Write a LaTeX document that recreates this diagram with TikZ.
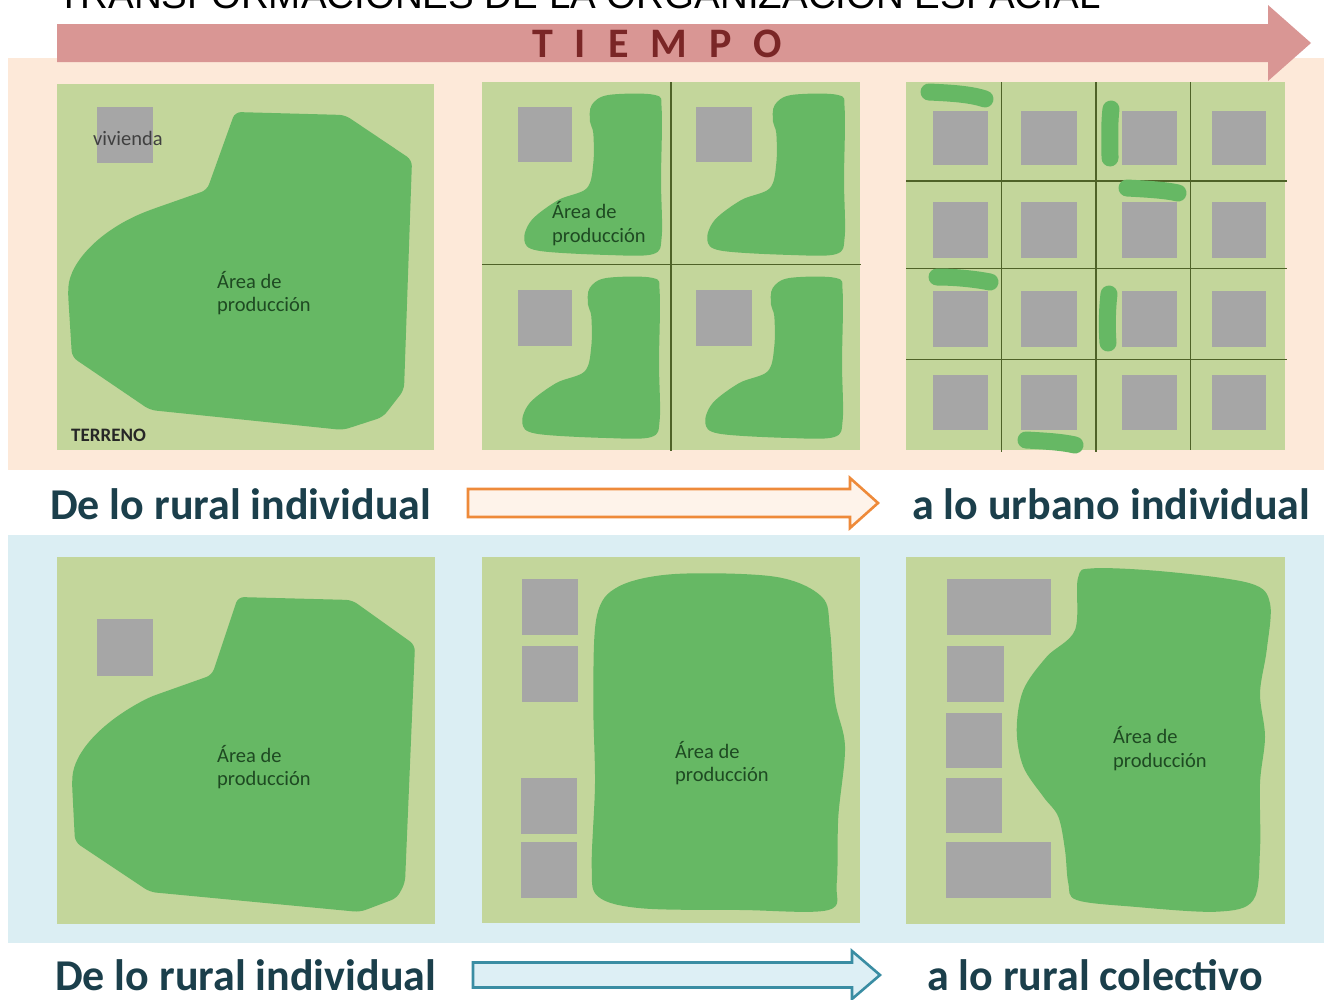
\documentclass[tikz,border=0pt]{standalone}
\usepackage{fontspec}
\setmainfont{Carlito}
\newfontfamily\titlefont{Liberation Sans}
\usetikzlibrary{calc}
\definecolor{peach}{HTML}{FDE9D9}
\definecolor{paleblue}{HTML}{DBEEF3}
\definecolor{plot}{HTML}{C3D69B}
\definecolor{crop}{HTML}{66B864}
\definecolor{house}{HTML}{A6A6A6}
\definecolor{gridline}{HTML}{4F6228}
\definecolor{arrowred}{HTML}{D99694}
\definecolor{darkred}{HTML}{7A2626}
\definecolor{headtxt}{HTML}{1B3F4B}
\definecolor{labtxt}{HTML}{1E4A22}
\definecolor{orangeline}{HTML}{EE8A3A}
\definecolor{orangefill}{HTML}{FEF3EA}
\definecolor{blueline}{HTML}{3A8DA3}
\definecolor{bluefill}{HTML}{DDEFF5}
\begin{document}
\begin{tikzpicture}[x=1pt,y=-1pt,
 plotbox/.style={fill=plot},
 housebox/.style={fill=house, rounded corners=1.5pt},
 cropfill/.style={fill=crop},
 strip/.style={draw=crop, line width=17pt, line cap=round},
 gline/.style={draw=gridline, line width=1.1pt},
 areatxt/.style={font=\fontsize{20.5}{23.5}\selectfont, text=labtxt, align=left, inner sep=0pt, anchor=west},
 bigtxt/.style={font=\bfseries\fontsize{44}{50}\selectfont, text=headtxt, inner sep=0pt, anchor=base west},
 blockarrow/.style={line width=2.6pt, line join=miter},
]
\useasboundingbox (0,0) rectangle (1324,999);
\begin{scope}
\clip (0,0) rectangle (1324,999);
\fill[white] (0,0) rectangle (1324,999);
\node[anchor=base west, inner sep=0pt, font=\titlefont\fontsize{38.5}{40}\selectfont] (title) at (57,8) {TRANSFORMACIONES DE LA ORGANIZACIÓN ESPACIAL};
\end{scope}

% bands
\fill[peach] (8,58) rectangle (1324,470);
\fill[paleblue] (8,535) rectangle (1324,943);

% time arrow
\coordinate (ra) at (57,43);
\coordinate (rb) at (1311,43);
\fill[arrowred] ($(ra)+(0,-19)$) -- ($(rb)+(-43,-19)$) -- ($(rb)+(-43,-38)$) -- (rb) -- ($(rb)+(-43,38)$) -- ($(rb)+(-43,19)$) -- ($(ra)+(0,19)$) -- cycle;
\node[font=\bfseries\fontsize{42}{44}\selectfont, text=darkred, inner sep=0pt] (tiempo) at (657,44) {T\hspace{22pt}I\hspace{22pt}E\hspace{22pt}M\hspace{22pt}P\hspace{22pt}O};

% ===== top row =====
% panel 1
\fill[plot] (57,84) rectangle (434,450);
\fill[crop, rounded corners=6pt] (235,112) -- (345,115) -- (412,160) -- (404,390) -- (383,417) -- (343,430) -- (150,410) -- (72,357) -- (68,293) .. controls (70,262) and (100,230) .. (150,210) -- (207,190) -- cycle;
\fill[house] (97,107) rectangle (153,163);
\node[anchor=west, inner sep=0pt, font=\fontsize{20.5}{22}\selectfont, text=black!75] (viv) at (93,138) {vivienda};
\node[anchor=west, inner sep=0pt, font=\bfseries\fontsize{19}{21}\selectfont, text=black!85] (terr) at (71,435) {TERRENO};
\node[areatxt] (a1) at (217,293) {Área de\\producción};

% panel 2
\fill[plot] (482,82) rectangle (860,450);
\foreach \dx/\dy in {0/0, 183/0, -2/183, 181/183}{
  \begin{scope}[shift={(\dx,\dy)}]
  \fill[crop] plot[smooth cycle, tension=0.55] coordinates {(591.7,105) (608.3,95) (655,95) (661.7,110) (661,180) (661.7,236.7) (653.3,254) (608.3,255) (538.3,250.7) (524.3,240) (531.7,220) (558.3,200) (586.7,188.3) (593.3,163.3) (593.3,133.3) (590,121.7)};
  \end{scope}
}
\fill[house] (518,107) rectangle (572,162);
\fill[house] (696,107) rectangle (752,162);
\fill[house] (518,290) rectangle (572,346);
\fill[house] (696,290) rectangle (752,346);
\draw[gline] (671,82) -- (671,451);
\draw[gline] (482,264.5) -- (861,264.5);
\node[areatxt] (a2) at (552,223.5) {Área de\\producción};

% panel 3
\fill[plot] (906,82) rectangle (1285,450);
\foreach \xa/\xb in {933/988, 1021/1077, 1122/1177, 1212/1266}{
  \foreach \ya/\yb in {111/165, 202/258, 291/347, 375/430}{
    \fill[house] (\xa,\ya) rectangle (\xb,\yb);
  }
}
\draw[gline] (1001.7,82) -- (1001.7,452);
\draw[gline] (1096,82) -- (1096,452);
\draw[gline] (1190.7,82) -- (1190.7,450);
\draw[gline] (906,181) -- (1287,181);
\draw[gline] (906,268.3) -- (1287,268.3);
\draw[gline] (906,359.3) -- (1287,359.3);
\draw[strip] (929,92) .. controls (950,93) and (970,94) .. (985,99);
\draw[strip] (1111,109) .. controls (1109,125) and (1110,145) .. (1110,158);
\draw[strip] (1127,188) .. controls (1145,189) and (1165,190) .. (1178,193);
\draw[strip] (937,277) .. controls (955,277) and (975,279) .. (990,282);
\draw[strip] (1109,294) .. controls (1107,310) and (1107,330) .. (1108,343);
\draw[strip] (1026,440) .. controls (1045,441) and (1062,442) .. (1075,445);

% middle caption
\node[bigtxt] (t1) at (50,519) {De lo rural individual};
\node[bigtxt] (t2) at (912,519) {a lo urbano individual};
\coordinate (oa) at (468,503);
\coordinate (ob) at (878,503);
\filldraw[blockarrow, draw=orangeline, fill=orangefill] ($(oa)+(0,-14)$) -- ($(ob)+(-28,-14)$) -- ($(ob)+(-28,-25)$) -- (ob) -- ($(ob)+(-28,25)$) -- ($(ob)+(-28,14)$) -- ($(oa)+(0,14)$) -- cycle;

% ===== bottom row =====
\fill[plot] (57,557) rectangle (435,924);
\fill[crop, rounded corners=6pt] (238,597) -- (352,600) -- (415,645) -- (405,883) -- (397,898) -- (360,912) -- (150,892) -- (75,842) -- (72,783) .. controls (74,753) and (100,723) .. (150,697) -- (212,675) -- cycle;
\fill[house] (97,619) rectangle (153,676);
\node[areatxt] (a3) at (217,767) {Área de\\producción};

\fill[plot] (482,557) rectangle (860,923);
\fill[crop] plot[smooth cycle, tension=0.55] coordinates {(596.7,616.7) (618.3,586.7) (675,574) (775,576.7) (821.7,596.7) (830,630) (835,700) (845,746.7) (838.3,816.7) (836.7,883.3) (828.3,910) (741.7,910) (641.7,908.3) (598.3,896.7) (591.7,866.7) (595,783.3) (593.3,700)};
\fill[house] (522,579) rectangle (578,635);
\fill[house] (522,646) rectangle (578,702);
\fill[house] (521,778) rectangle (577,834);
\fill[house] (521,842) rectangle (577,898);
\node[areatxt] (a4) at (675,763) {Área de\\producción};

\fill[plot] (906,557) rectangle (1285,924);
\fill[crop] plot[smooth cycle, tension=0.55] coordinates {(1078,578) (1093.3,568.3) (1166.7,571.7) (1250,583.3) (1270,603.3) (1266.7,650) (1260,693.3) (1265,736.7) (1260,783.3) (1260,850) (1253.3,900) (1216.7,911.7) (1133.3,906.7) (1076.7,900) (1068.3,883.3) (1065,850) (1058.3,816.7) (1043.3,796.7) (1023.3,766.7) (1016.7,730) (1023.3,690) (1046.7,656.7) (1075,630)};
\fill[house] (947,579) rectangle (1051,635);
\fill[house] (947,646) rectangle (1004,702);
\fill[house] (946,713) rectangle (1002,768);
\fill[house] (946,778) rectangle (1002,833);
\fill[house] (946,842) rectangle (1051,898);
\node[areatxt] (a5) at (1113,748.5) {Área de\\producción};

% bottom caption
\node[bigtxt] (t3) at (55,990) {De lo rural individual};
\node[bigtxt] (t4) at (927,990) {a lo rural colectivo};
\coordinate (ba) at (473,975);
\coordinate (bb) at (880,975);
\filldraw[blockarrow, draw=blueline, fill=bluefill] ($(ba)+(0,-12.5)$) -- ($(bb)+(-28,-12.5)$) -- ($(bb)+(-28,-24)$) -- (bb) -- ($(bb)+(-28,24)$) -- ($(bb)+(-28,12.5)$) -- ($(ba)+(0,12.5)$) -- cycle;
\end{tikzpicture}
\end{document}
